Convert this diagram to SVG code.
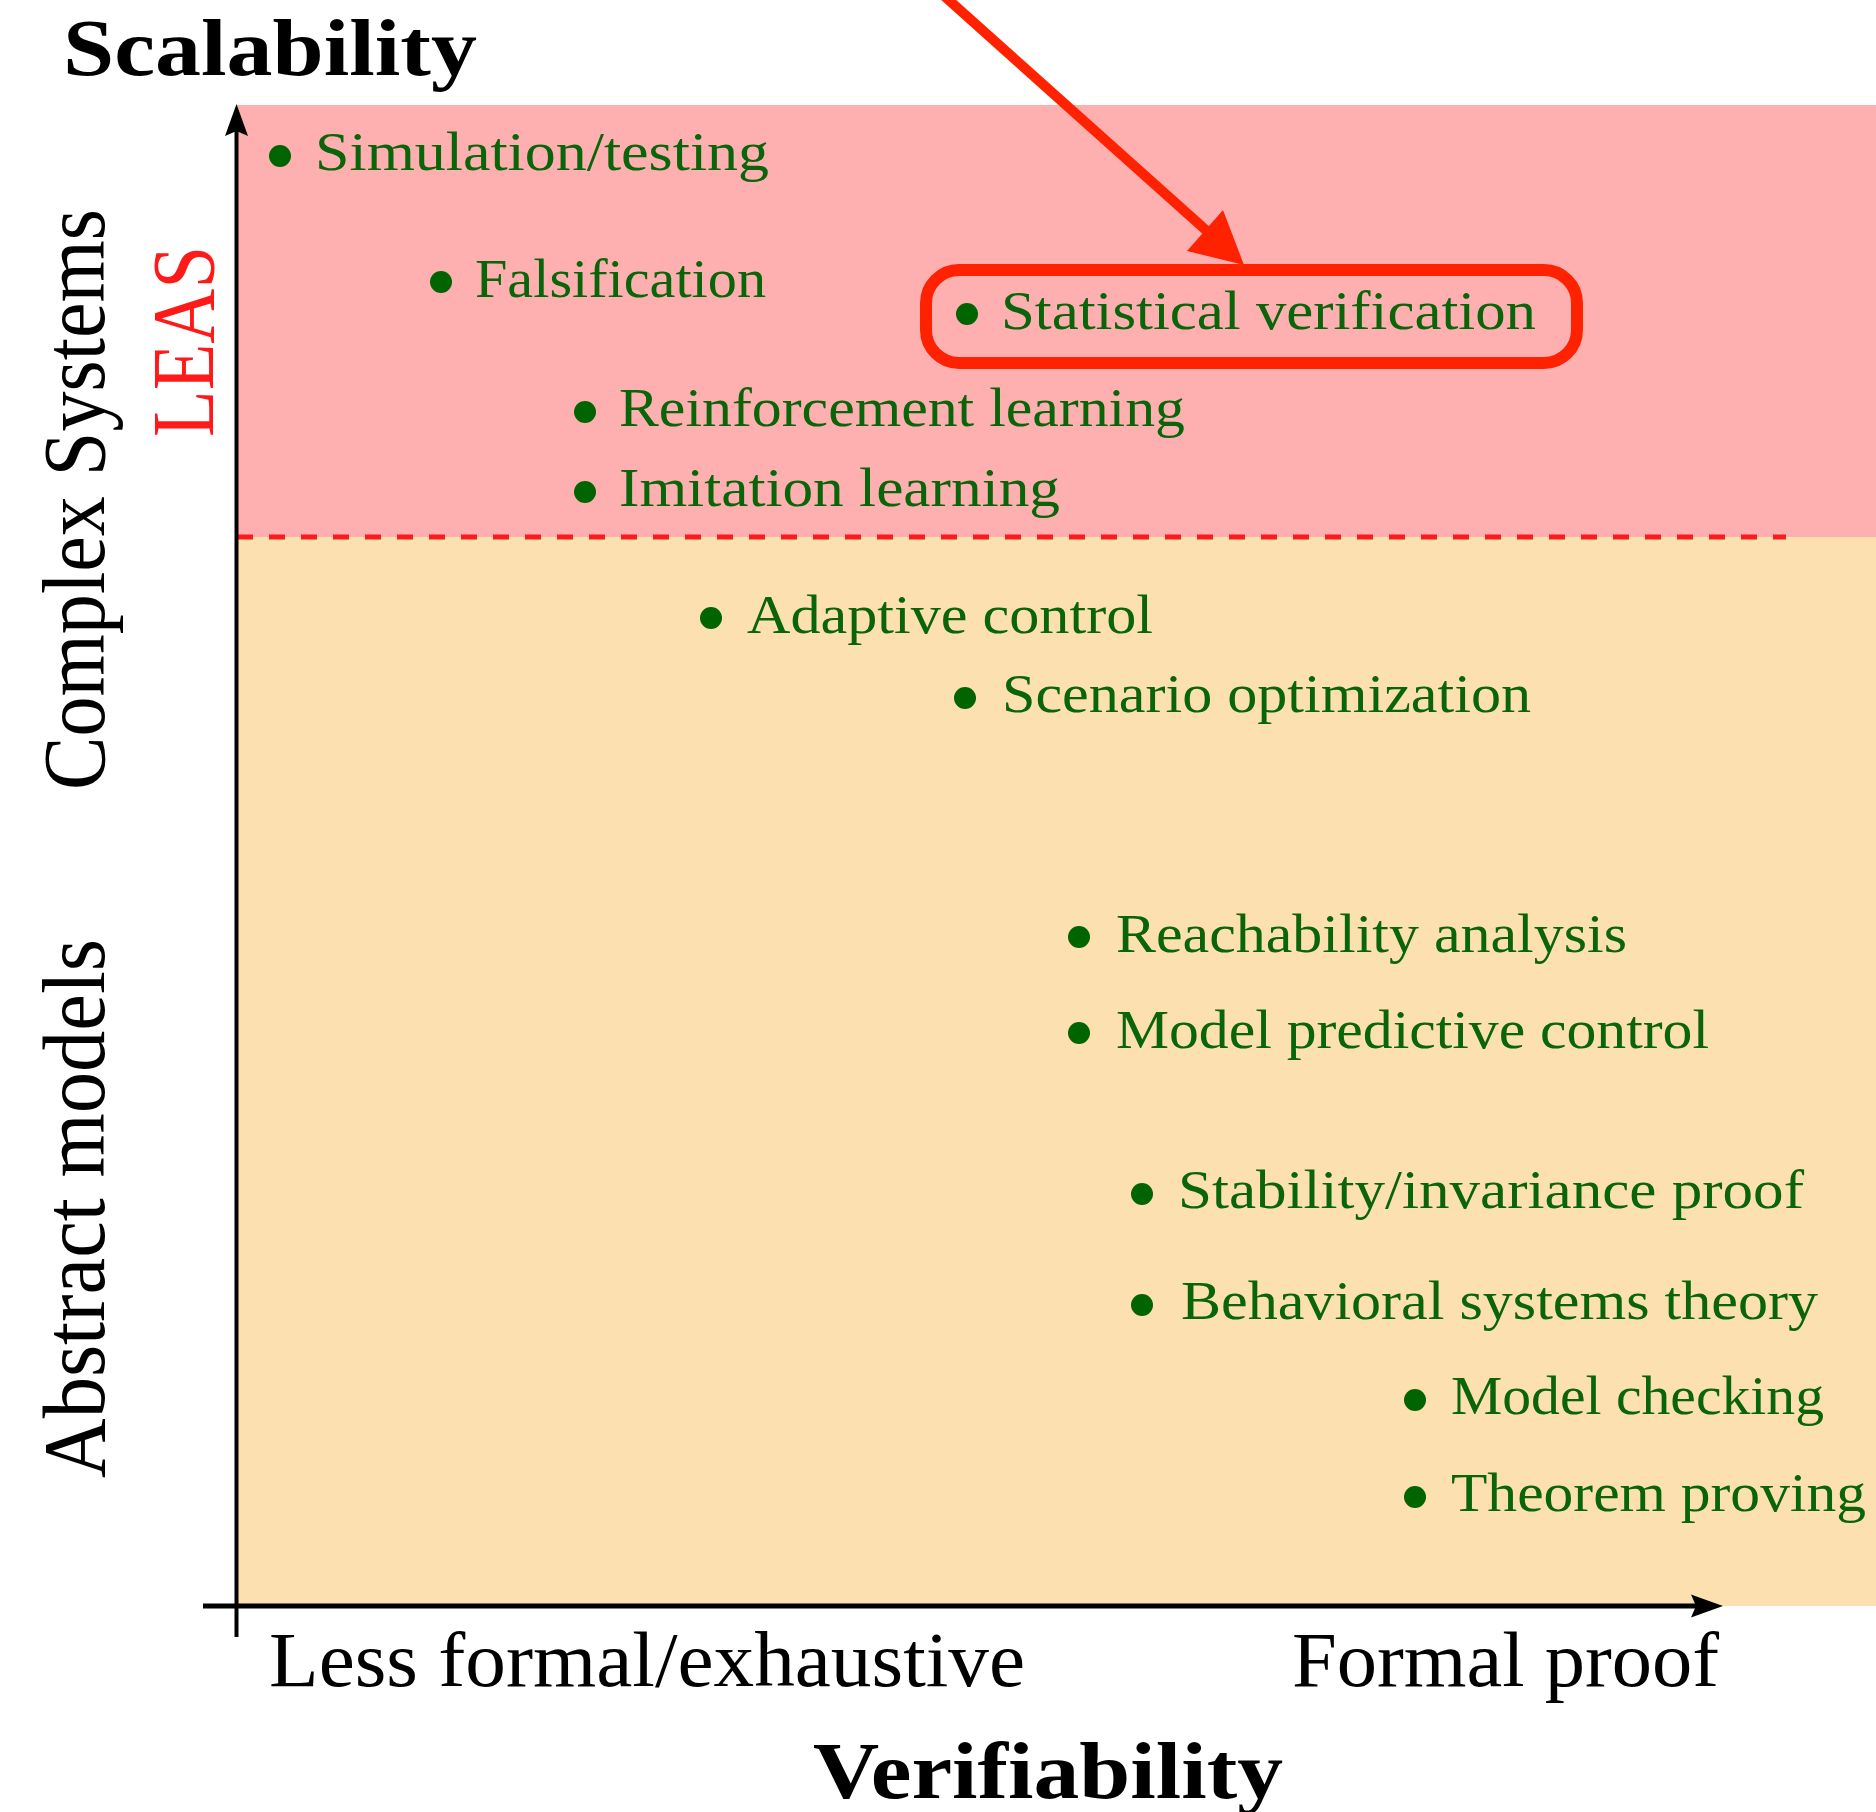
<svg xmlns="http://www.w3.org/2000/svg" width="1876" height="1812" viewBox="0 0 1876 1812">
<style>
.item{font-family:"Liberation Serif","DejaVu Serif",serif;font-size:55px;fill:#0a640a}
.dot{fill:#006400}
.ax{font-family:"Liberation Serif","DejaVu Serif",serif;fill:#000}
.bold{font-weight:bold;font-size:80px}
.tick{font-size:78px}
.side{font-size:88px}
</style>
<rect width="1876" height="1812" fill="#fff"/>
<g id="regions">
<rect id="leas-region" x="237" y="105" width="1639" height="432" fill="#feb0b0"/>
<rect id="abstract-region" x="237" y="537" width="1639" height="1069" fill="#fde0b0"/>
<line x1="237" y1="537" x2="1786" y2="537" stroke="#ff1a1a" stroke-width="5" stroke-dasharray="16 16"/>
</g>
<g id="axes">
<line x1="236.5" y1="1637" x2="236.5" y2="125" stroke="#000" stroke-width="4"/>
<polygon points="236.5,104 248,136 236.5,131 225,136" fill="#000"/>
<line x1="203" y1="1606" x2="1700" y2="1606" stroke="#000" stroke-width="5"/>
<polygon points="1723,1606 1691,1594.5 1696,1606 1691,1617.5" fill="#000"/>
</g>
<g id="labels">
<text class="ax bold" x="63" y="75" textLength="414" lengthAdjust="spacingAndGlyphs">Scalability</text>
<text class="ax bold" x="813" y="1798" textLength="470" lengthAdjust="spacingAndGlyphs">Verifiability</text>
<text class="ax tick" x="269" y="1686" textLength="756" lengthAdjust="spacingAndGlyphs">Less formal/exhaustive</text>
<text class="ax tick" x="1292" y="1686" textLength="427" lengthAdjust="spacingAndGlyphs">Formal proof</text>
<text class="ax side" transform="translate(104,790) rotate(-90)" textLength="581" lengthAdjust="spacingAndGlyphs">Complex Systems</text>
<text class="ax side" transform="translate(104,1478) rotate(-90)" textLength="539" lengthAdjust="spacingAndGlyphs">Abstract models</text>
<text class="ax side" transform="translate(213,437) rotate(-90)" textLength="191" lengthAdjust="spacingAndGlyphs" style="fill:#ff1a1a">LEAS</text>
</g>
<g id="n-simulation"><circle class="dot" cx="280" cy="156" r="11"/><text class="item" x="315" y="170" textLength="454" lengthAdjust="spacingAndGlyphs">Simulation/testing</text></g>
<g id="n-falsification"><circle class="dot" cx="441" cy="282" r="11"/><text class="item" x="475" y="297" textLength="291" lengthAdjust="spacingAndGlyphs">Falsification</text></g>
<g id="n-statistical"><circle class="dot" cx="967" cy="314" r="11"/><text class="item" x="1001" y="329" textLength="535" lengthAdjust="spacingAndGlyphs">Statistical verification</text>
<rect x="926" y="270" width="651" height="93" rx="33" fill="none" stroke="#ff2200" stroke-width="12"/></g>
<g id="n-reinforcement"><circle class="dot" cx="585" cy="412" r="11"/><text class="item" x="619" y="426" textLength="566" lengthAdjust="spacingAndGlyphs">Reinforcement learning</text></g>
<g id="n-imitation"><circle class="dot" cx="585" cy="492" r="11"/><text class="item" x="619" y="506" textLength="441" lengthAdjust="spacingAndGlyphs">Imitation learning</text></g>
<g id="n-adaptive"><circle class="dot" cx="711" cy="618" r="11"/><text class="item" x="747" y="633" textLength="406" lengthAdjust="spacingAndGlyphs">Adaptive control</text></g>
<g id="n-scenario"><circle class="dot" cx="965" cy="698" r="11"/><text class="item" x="1002" y="712" textLength="529" lengthAdjust="spacingAndGlyphs">Scenario optimization</text></g>
<g id="n-reachability"><circle class="dot" cx="1079" cy="937" r="11"/><text class="item" x="1116" y="952" textLength="511" lengthAdjust="spacingAndGlyphs">Reachability analysis</text></g>
<g id="n-mpc"><circle class="dot" cx="1079" cy="1033" r="11"/><text class="item" x="1116" y="1048" textLength="593" lengthAdjust="spacingAndGlyphs">Model predictive control</text></g>
<g id="n-stability"><circle class="dot" cx="1142" cy="1194" r="11"/><text class="item" x="1178" y="1208" textLength="626" lengthAdjust="spacingAndGlyphs">Stability/invariance proof</text></g>
<g id="n-behavioral"><circle class="dot" cx="1142" cy="1305" r="11"/><text class="item" x="1181" y="1319" textLength="637" lengthAdjust="spacingAndGlyphs">Behavioral systems theory</text></g>
<g id="n-modelchecking"><circle class="dot" cx="1415" cy="1400" r="11"/><text class="item" x="1451" y="1414" textLength="373" lengthAdjust="spacingAndGlyphs">Model checking</text></g>
<g id="n-theorem"><circle class="dot" cx="1415" cy="1497" r="11"/><text class="item" x="1451" y="1511" textLength="415" lengthAdjust="spacingAndGlyphs">Theorem proving</text></g>
<g id="connectors">
<line x1="942" y1="-6" x2="1208" y2="232" stroke="#ff2200" stroke-width="10"/>
<polygon points="1244,265 1187,251 1223,210" fill="#ff2200"/>
</g>
</svg>
